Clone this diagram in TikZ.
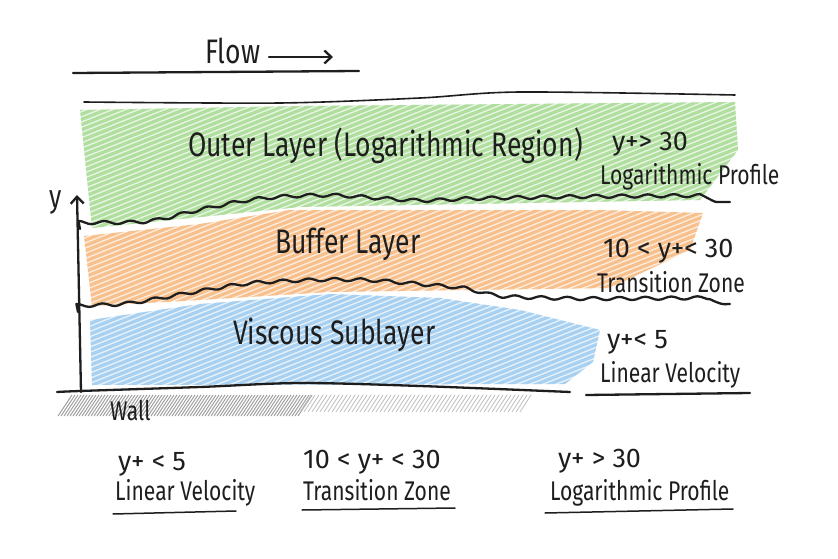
\documentclass[tikz,border=0pt]{standalone}
\usepackage{fontspec}
\setmainfont{Fira Sans}
\newfontfamily\hand[FakeStretch=0.78]{Fira Sans}
\newfontfamily\numhand{Fira Sans}
\usetikzlibrary{decorations.pathmorphing,arrows.meta}
\definecolor{ink}{RGB}{30,30,30}
\definecolor{greenF}{RGB}{176,222,158}
\definecolor{orangeF}{RGB}{248,192,140}
\definecolor{blueF}{RGB}{168,208,240}
\tikzset{
  lbl/.style={inner sep=0pt, anchor=base west, text=ink},
  big/.style={lbl, font=\hand\fontsize{34}{40}\selectfont},
  mid/.style={lbl, font=\hand\fontsize{27}{32}\selectfont},
  num/.style={lbl, font=\numhand\fontsize{27}{32}\selectfont},
  pen/.style={draw=ink, line width=2.3pt, line cap=round, line join=round},
  wave/.style={pen, decorate, decoration={snake, segment length=26pt, amplitude=1.6pt}},
  barb/.style={-{Straight Barb[length=7pt,width=13pt,line width=2.3pt]}},
  hatchln/.style={line width=3.2pt, line cap=round}
}
\begin{document}
\begin{tikzpicture}[x=1pt,y=-1pt]
\useasboundingbox (0,0) rectangle (838,559);
\fill[white] (0,0) rectangle (838,559);

% ---------- coloured layers ----------
\begin{scope}
  \clip (80,110) -- (300,106) -- (735,102) -- (738,150) -- (700,200) -- (300,207) -- (92,228) -- cycle;
  \fill[greenF!30] (0,0) rectangle (838,559);
  \foreach \i in {-500,-487,...,800} \draw[greenF, hatchln] (\i,300) -- ++(500,-200);
\end{scope}
\begin{scope}
  \clip (84,236) -- (200,224) -- (290,210) -- (600,210) -- (703,213) -- (690,250) -- (610,288) -- (330,292) -- (200,300) -- (92,306) -- cycle;
  \fill[orangeF!30] (0,0) rectangle (838,559);
  \foreach \i in {-500,-487,...,800} \draw[orangeF, hatchln] (\i,360) -- ++(500,-200);
\end{scope}
\begin{scope}
  \clip (90,320) -- (200,304) -- (330,294) -- (440,298) -- (520,310) -- (600,330) -- (593,362) -- (565,384) -- (92,385) -- cycle;
  \fill[blueF!30] (0,0) rectangle (838,559);
  \foreach \i in {-500,-487,...,800} \draw[blueF, hatchln] (\i,440) -- ++(500,-200);
\end{scope}

% ---------- wall hatching ----------
\foreach \x in {58,61,...,300} \draw[gray!80, line width=0.9pt] (\x,416) -- ++(14,-21);
\foreach \x in {300,304,...,520} \draw[gray!50, line width=0.8pt] (\x,412) -- ++(11,-17);

% ---------- lines ----------
\draw[pen] (73,73) -- (359,71);
\draw[pen, line width=1.6pt] plot[smooth] coordinates {(84,102) (280,103) (420,98) (520,92) (735,95)};
\draw[wave] plot[smooth] coordinates {(80,229) (150,228) (200,217) (250,207) (290,203) (340,202) (420,207) (480,205) (600,203) (730,202)};
\draw[wave] plot[smooth] coordinates {(78,312) (130,310) (200,298) (250,290) (300,287) (340,286) (380,287) (440,292) (470,295) (500,302) (540,304) (600,305) (730,304)};
\draw[pen] plot[smooth] coordinates {(57,392) (80,391) (200,387) (300,383) (420,386) (570,392)};
\draw[pen] (586,395) -- (750,393);

% ---------- axis ----------
\coordinate (ybot) at (81,392);
\coordinate (ytop) at (77,195);
\draw[pen, barb] (ybot) -- (ytop);
\node[lbl, font=\hand\fontsize{32}{36}\selectfont] (ylab) at (49,207) {y};

% ---------- flow ----------
\node[lbl, font=\hand\fontsize{34}{40}\selectfont] (flow) at (205,64) {Flow};
\coordinate (flowstart) at (269,57);
\coordinate (flowend) at (333,57);
\draw[pen, barb] (flowstart) -- (flowend);

% ---------- layer labels ----------
\node[big] (outer) at (188,157) {Outer Layer (Logarithmic Region)};
\node[big] (buffer) at (275,253) {Buffer Layer};
\node[big] (visc) at (233,344) {Viscous Sublayer};
\node[mid] (wall) at (110,420) {Wall};

% ---------- right labels ----------
\node[num] (r1a) at (612,150) {y+> 30};
\node[mid] (r1b) at (600,185) {Logarithmic Profile};
\node[num] (r2a) at (603,257) {10 < y+< 30};
\node[mid] (r2b) at (597,292) {Transition Zone};
\node[num] (r3a) at (607,348) {y+< 5};
\node[mid] (r3b) at (600,382) {Linear Velocity};

% ---------- bottom labels ----------
\node[num] (b1a) at (118,470) {y+ < 5};
\node[mid] (b1b) at (115,500) {Linear Velocity};
\draw[pen, line width=1.5pt] (113,514) -- (236,511);
\node[num] (b2a) at (303,468) {10 < y+ < 30};
\node[mid] (b2b) at (303,500) {Transition Zone};
\draw[pen, line width=1.5pt] (302,510) -- (455,508);
\node[num] (b3a) at (558,467) {y+ > 30};
\node[mid] (b3b) at (550,500) {Logarithmic Profile};
\draw[pen, line width=1.5pt] (545,513) -- (733,509);
\end{tikzpicture}
\end{document}
